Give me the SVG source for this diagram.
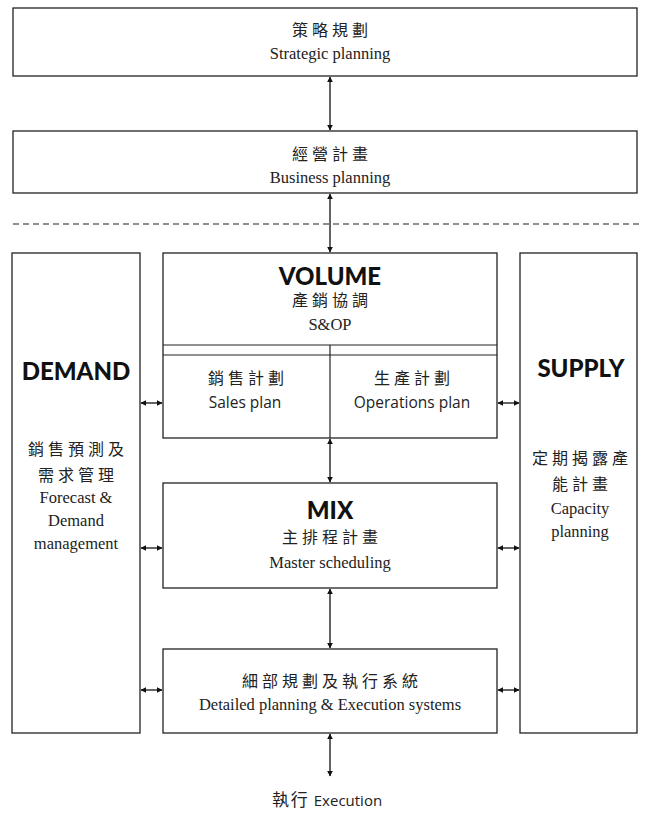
<svg xmlns="http://www.w3.org/2000/svg" width="647" height="816" viewBox="0 0 647 816">
<style>
.box{fill:#fff;stroke:#222;stroke-width:1.3}
.ln{stroke:#222;stroke-width:1.2;fill:none}
.con{stroke:#111;stroke-width:1.3;fill:none;marker-start:url(#ah);marker-end:url(#ah)}
.zh{font-family:"Liberation Serif","Noto Sans CJK TC",serif;font-size:16px;fill:#222;text-anchor:middle;letter-spacing:4px}
.en{font-family:"Liberation Serif",serif;font-size:16.5px;fill:#222;text-anchor:middle}
.sans{font-family:"Open Sans","Liberation Sans",sans-serif;font-size:15.5px;fill:#222;text-anchor:middle}
.hd{font-family:"Lato","Open Sans",sans-serif;font-weight:900;font-size:24px;fill:#111;text-anchor:middle}
</style>
<defs>
<marker id="ah" viewBox="0 0 10 10" refX="9" refY="5" markerWidth="6" markerHeight="6" orient="auto-start-reverse" markerUnits="userSpaceOnUse">
<path d="M0,0 L10,5 L0,10 z" fill="#111"/>
</marker>
</defs>
<g id="strategic">
<rect class="box" x="13" y="8" width="624" height="68"/>
<text class="zh" x="332" y="36">策略規劃</text>
<text class="en" x="330" y="59">Strategic planning</text>
</g>
<g id="business">
<rect class="box" x="13" y="131" width="624" height="62"/>
<text class="zh" x="332" y="160">經營計畫</text>
<text class="en" x="330" y="183">Business planning</text>
</g>
<line x1="13" y1="224" x2="641" y2="224" stroke="#222" stroke-width="1.2" stroke-dasharray="6,4"/>
<g id="demand">
<rect class="box" x="12" y="253" width="128" height="480"/>
<text class="hd" x="76" y="380">DEMAND</text>
<text class="zh" x="78" y="455">銷售預測及</text>
<text class="zh" x="78" y="481">需求管理</text>
<text class="en" x="76" y="503">Forecast &amp;</text>
<text class="en" x="76" y="526">Demand</text>
<text class="en" x="76" y="549">management</text>
</g>
<g id="supply">
<rect class="box" x="520" y="253" width="117" height="480"/>
<text class="hd" x="581" y="377">SUPPLY</text>
<text class="zh" x="582" y="464">定期揭露產</text>
<text class="zh" x="582" y="490">能計畫</text>
<text class="en" x="580" y="514">Capacity</text>
<text class="en" x="580" y="537">planning</text>
</g>
<g id="volume">
<rect class="box" x="163" y="253" width="334" height="185"/>
<line class="ln" x1="163" y1="345" x2="497" y2="345"/>
<line class="ln" x1="163" y1="355" x2="497" y2="355"/>
<line class="ln" x1="330" y1="345" x2="330" y2="438"/>
<text class="hd" x="330" y="285">VOLUME</text>
<text class="zh" x="332" y="306">產銷協調</text>
<text class="en" x="330" y="330">S&amp;OP</text>
<text class="zh" x="248" y="384">銷售計劃</text>
<text class="sans" x="245" y="408">Sales plan</text>
<text class="zh" x="414" y="384">生產計劃</text>
<text class="sans" x="412" y="408">Operations plan</text>
</g>
<g id="mix">
<rect class="box" x="163" y="483" width="334" height="105"/>
<text class="hd" x="330" y="519">MIX</text>
<text class="zh" x="332" y="543">主排程計畫</text>
<text class="en" x="330" y="568">Master scheduling</text>
</g>
<g id="detailed">
<rect class="box" x="163" y="649" width="334" height="84"/>
<text class="zh" x="332" y="687">細部規劃及執行系統</text>
<text class="en" x="330" y="710">Detailed planning &amp; Execution systems</text>
</g>
<g id="execution">
<text x="327" y="806" text-anchor="middle" fill="#222" font-size="17"><tspan font-family="Liberation Serif,Noto Sans CJK TC,serif" letter-spacing="2">執行</tspan><tspan font-family="Open Sans,Liberation Sans,sans-serif" font-size="15"> Execution</tspan></text>
</g>
<g id="connectors">
<line class="con" x1="330" y1="77" x2="330" y2="130"/>
<line class="con" x1="330" y1="194" x2="330" y2="252"/>
<line class="con" x1="330" y1="439" x2="330" y2="482"/>
<line class="con" x1="330" y1="589" x2="330" y2="648"/>
<line class="con" x1="330" y1="734" x2="330" y2="776"/>
<line class="con" x1="141" y1="403" x2="162" y2="403"/>
<line class="con" x1="498" y1="403" x2="519" y2="403"/>
<line class="con" x1="141" y1="548" x2="162" y2="548"/>
<line class="con" x1="498" y1="548" x2="519" y2="548"/>
<line class="con" x1="141" y1="690" x2="162" y2="690"/>
<line class="con" x1="498" y1="690" x2="519" y2="690"/>
</g>
</svg>
